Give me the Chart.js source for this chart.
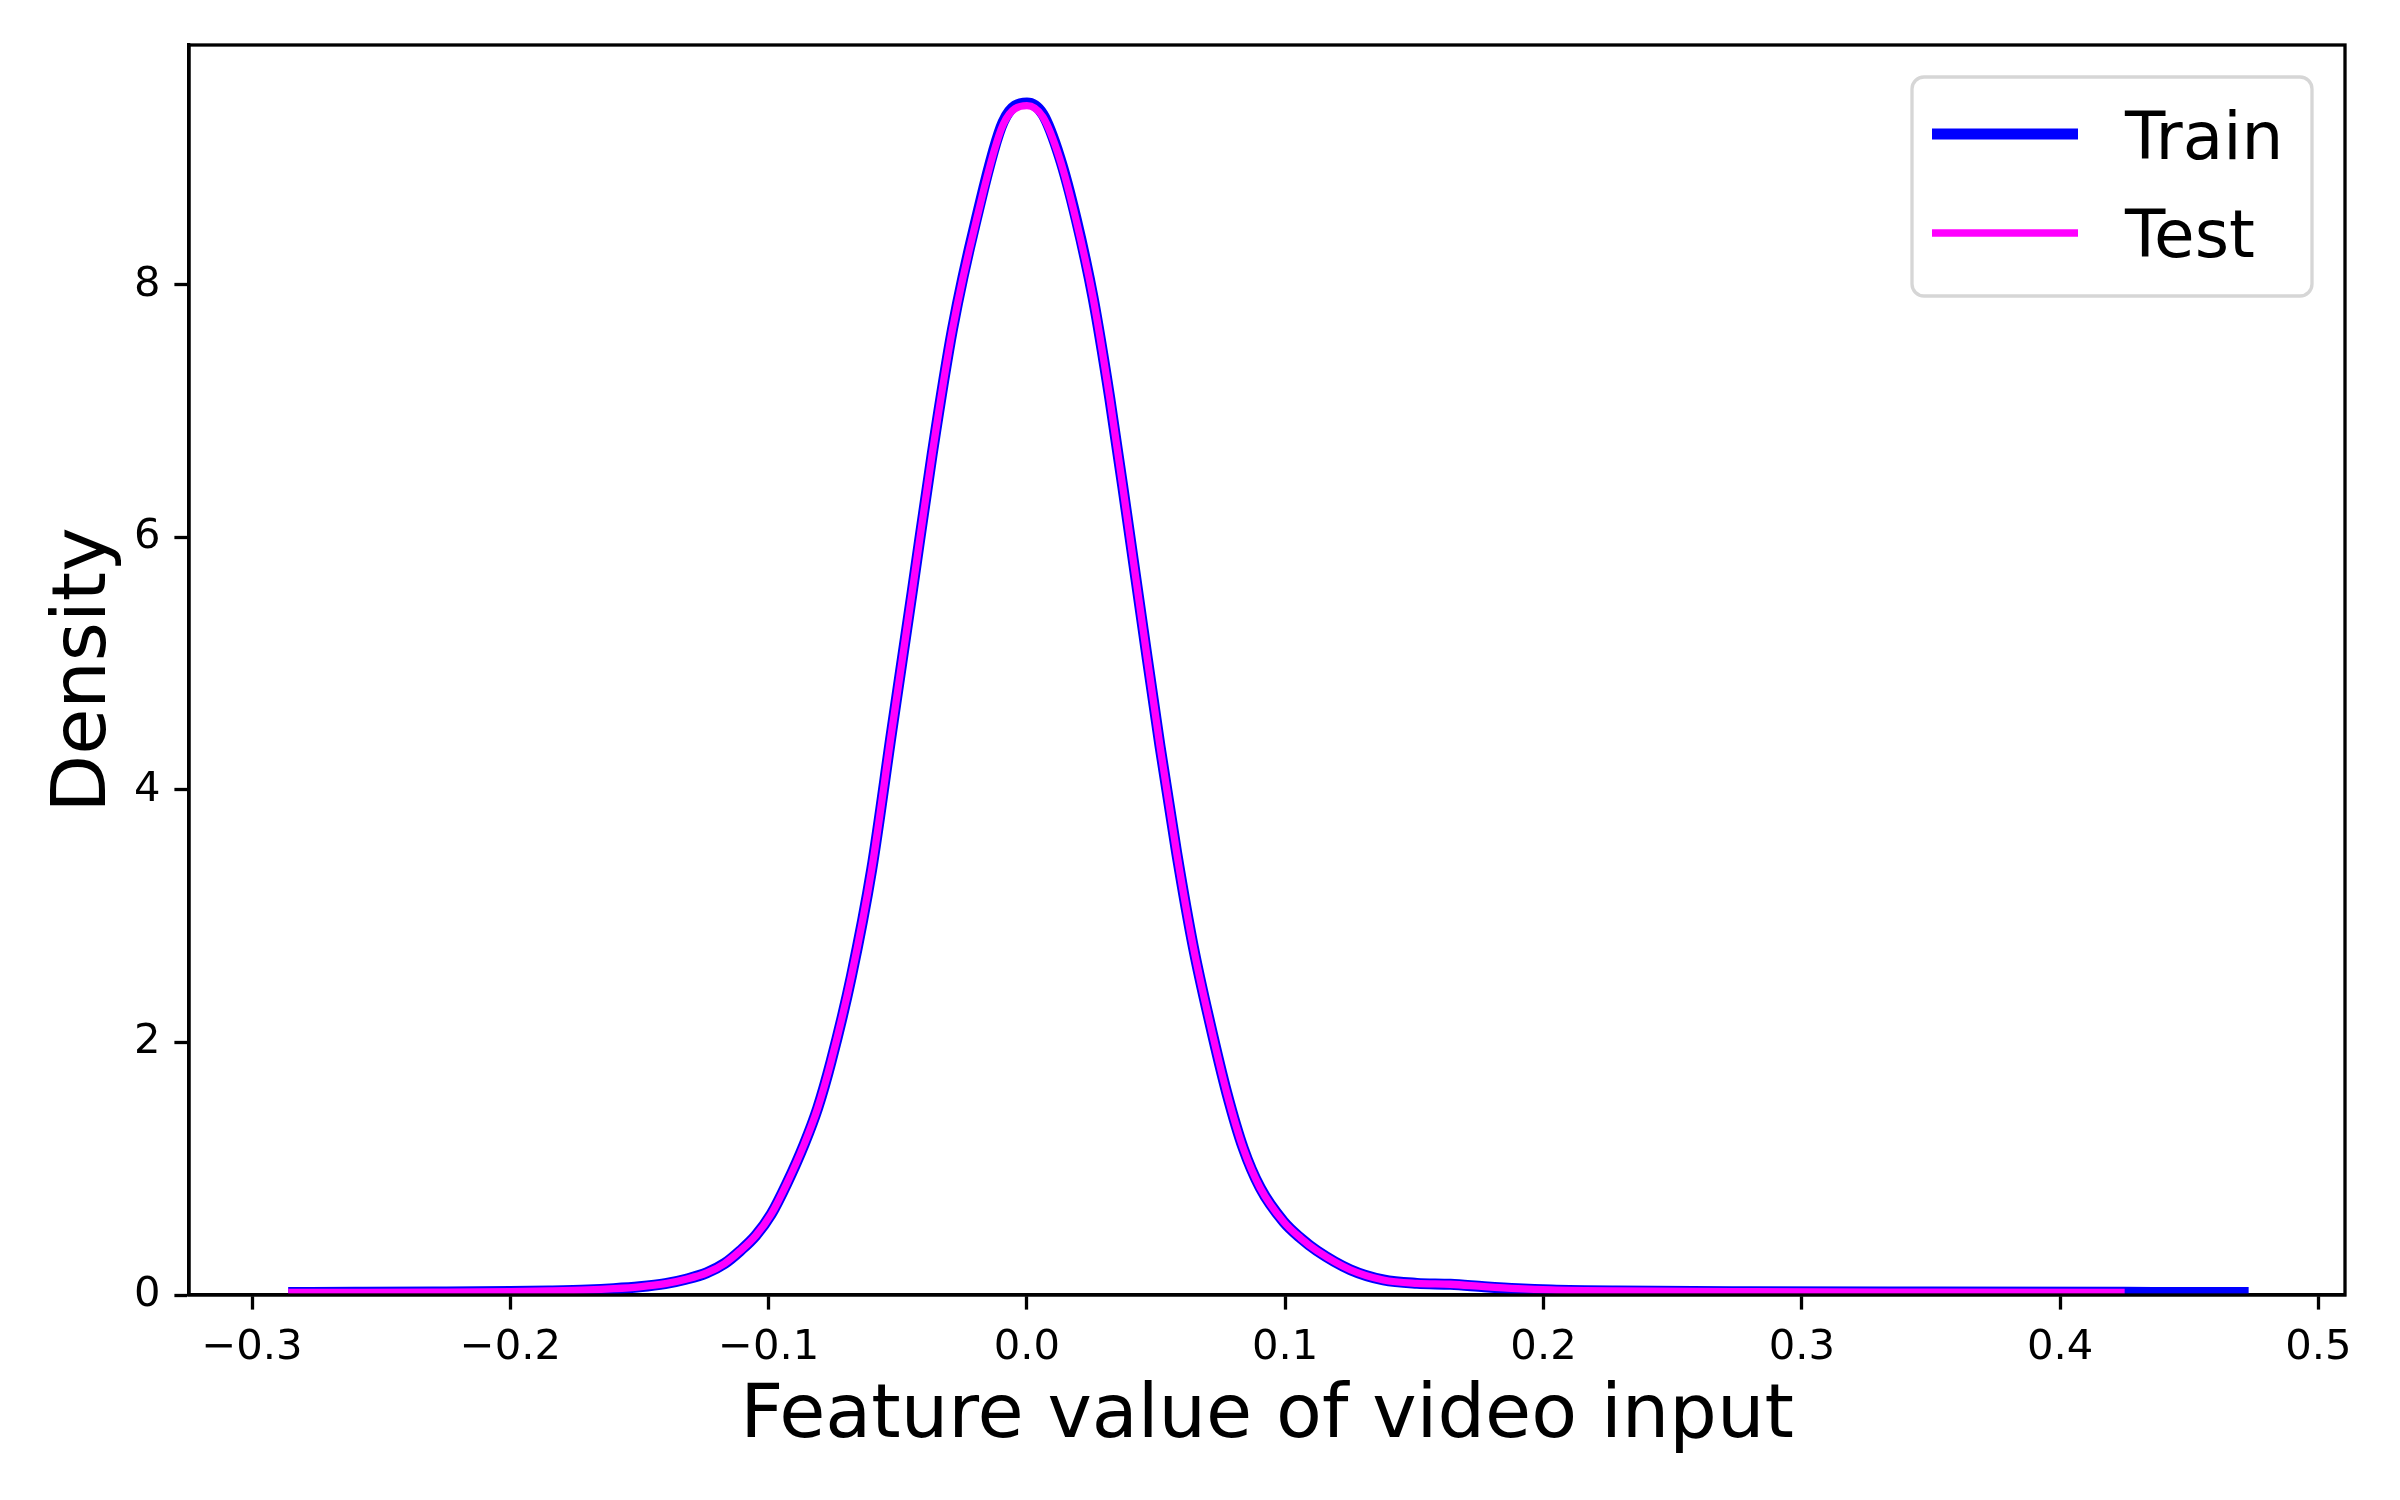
<!DOCTYPE html>
<html>
<head>
<meta charset="utf-8">
<title>Density of video input features</title>
<script src="https://cdn.jsdelivr.net/npm/chart.js@4.4.1/dist/chart.umd.min.js"></script>
<style>
  html, body { margin: 0; padding: 0; background: #fff; }
  #wrap { width: 2400px; height: 1500px; }
</style>
</head>
<body>
<div id="wrap"><canvas id="kde" width="2400" height="1500"></canvas></div>
<script>
// valeurs
const trainX = [-0.286, -0.26, -0.23, -0.20, -0.185, -0.17, -0.16, -0.15, -0.14, -0.132, -0.124, -0.117, -0.111, -0.105, -0.099, -0.093, -0.0863, -0.081, -0.0758, -0.068, -0.0601, -0.0523, -0.0444, -0.0366, -0.0288, -0.0196, -0.0092, 0.0, 0.0062, 0.0127, 0.0191, 0.0256, 0.0321, 0.0386, 0.045, 0.0515, 0.058, 0.0644, 0.0709, 0.0774, 0.0838, 0.0903, 0.0994, 0.106, 0.1123, 0.1252, 0.138, 0.151, 0.164, 0.177, 0.19, 0.203, 0.228, 0.28, 0.35, 0.425, 0.45, 0.473];
const trainDensity = [0.020, 0.021, 0.023, 0.027, 0.032, 0.040, 0.050, 0.065, 0.090, 0.125, 0.175, 0.25, 0.35, 0.47, 0.64, 0.88, 1.19, 1.48, 1.85, 2.52, 3.37, 4.47, 5.57, 6.67, 7.65, 8.52, 9.29, 9.44, 9.35, 9.01, 8.52, 7.90, 7.10, 6.19, 5.27, 4.35, 3.50, 2.76, 2.15, 1.60, 1.16, 0.85, 0.58, 0.45, 0.35, 0.20, 0.119, 0.092, 0.085, 0.066, 0.050, 0.040, 0.032, 0.026, 0.023, 0.021, 0.020, 0.020];

const testX = [-0.286, -0.26, -0.23, -0.20, -0.185, -0.17, -0.16, -0.15, -0.14, -0.132, -0.124, -0.117, -0.111, -0.105, -0.099, -0.093, -0.0863, -0.081, -0.0758, -0.068, -0.0601, -0.0523, -0.0444, -0.0366, -0.0288, -0.0196, -0.0092, 0.0, 0.0062, 0.0127, 0.0191, 0.0256, 0.0321, 0.0386, 0.045, 0.0515, 0.058, 0.0644, 0.0709, 0.0774, 0.0838, 0.0903, 0.0994, 0.106, 0.1123, 0.1252, 0.138, 0.151, 0.164, 0.177, 0.19, 0.203, 0.228, 0.28, 0.35, 0.425];
const testDensity = [0.020, 0.021, 0.023, 0.027, 0.032, 0.040, 0.050, 0.065, 0.090, 0.125, 0.175, 0.25, 0.35, 0.47, 0.64, 0.88, 1.19, 1.48, 1.85, 2.52, 3.37, 4.47, 5.57, 6.67, 7.65, 8.51, 9.27, 9.42, 9.33, 9.00, 8.51, 7.90, 7.10, 6.19, 5.27, 4.35, 3.50, 2.76, 2.15, 1.60, 1.16, 0.85, 0.58, 0.45, 0.35, 0.20, 0.119, 0.092, 0.085, 0.066, 0.050, 0.040, 0.032, 0.026, 0.023, 0.021];

const xTicks = [-0.3, -0.2, -0.1, 0.0, 0.1, 0.2, 0.3, 0.4, 0.5];
const yTicks = [0, 2, 4, 6, 8];
const seriesNames = ['Train', 'Test'];

const FONT = 'DejaVu Sans';

function toPoints(xs, ys) {
  return xs.map((x, i) => ({ x: x, y: ys[i] }));
}

// cadre complet (haut + droite) comme matplotlib
const framePlugin = {
  id: 'frame',
  afterDraw(chart) {
    const { ctx, chartArea: a } = chart;
    ctx.save();
    ctx.strokeStyle = '#000';
    ctx.lineWidth = 3.3;
    ctx.strokeRect(a.left, a.top, a.right - a.left, a.bottom - a.top);
    ctx.restore();
  }
};

// légende encadrée en haut à droite
const legendBoxPlugin = {
  id: 'legendBox',
  afterDraw(chart) {
    const ctx = chart.ctx;
    const box = { x: 1912, y: 77, w: 400, h: 219, r: 12 };
    ctx.save();
    ctx.beginPath();
    ctx.roundRect(box.x, box.y, box.w, box.h, box.r);
    ctx.fillStyle = 'rgba(255,255,255,0.8)';
    ctx.fill();
    ctx.strokeStyle = '#d6d6d6';
    ctx.lineWidth = 3.3;
    ctx.stroke();

    const rows = [
      { ds: chart.data.datasets[0], y: 134, textY: 159 },
      { ds: chart.data.datasets[1], y: 233, textY: 257 }
    ];
    rows.forEach(row => {
      ctx.beginPath();
      ctx.moveTo(1932, row.y);
      ctx.lineTo(2078, row.y);
      ctx.strokeStyle = row.ds.borderColor;
      ctx.lineWidth = row.ds.borderWidth;
      ctx.lineCap = 'butt';
      ctx.stroke();
      ctx.fillStyle = '#000';
      ctx.font = '66px "' + FONT + '"';
      ctx.textAlign = 'left';
      ctx.textBaseline = 'alphabetic';
      ctx.fillText(row.ds.label, 2125, row.textY);
    });
    ctx.restore();
  }
};

new Chart(document.getElementById('kde'), {
  type: 'line',
  data: {
    datasets: [
      {
        label: seriesNames[0],
        data: toPoints(trainX, trainDensity),
        borderColor: '#0000ff',
        borderWidth: 11,
        order: 1
      },
      {
        label: seriesNames[1],
        data: toPoints(testX, testDensity),
        borderColor: '#ff00ff',
        borderWidth: 7.3,
        order: 0
      }
    ]
  },
  options: {
    responsive: false,
    animation: false,
    devicePixelRatio: 1,
    layout: { padding: { top: 45, right: 55, left: 0, bottom: 0 } },
    elements: {
      point: { radius: 0, hoverRadius: 0 },
      line: { cubicInterpolationMode: 'monotone', fill: false, borderJoinStyle: 'round' }
    },
    plugins: {
      legend: { display: false },
      tooltip: { enabled: false }
    },
    scales: {
      x: {
        type: 'linear',
        min: -0.3244,
        max: 0.5103,
        afterBuildTicks: (scale) => { scale.ticks = xTicks.map(v => ({ value: v })); },
        afterFit: (scale) => { scale.height = 205; },
        ticks: {
          color: '#000',
          padding: 14,
          maxRotation: 0,
          font: { family: FONT, size: 41.7 },
          callback: (v) => Number(v).toFixed(1).replace('-', '\u2212')
        },
        grid: { display: true, drawOnChartArea: false, drawTicks: true, tickLength: 14.6, tickWidth: 3.3, tickColor: '#000' },
        border: { display: true, color: '#000', width: 3.3 },
        title: {
          display: true,
          text: 'Feature value of video input',
          color: '#000',
          font: { family: FONT, size: 75 },
          padding: { top: 0, bottom: 37 }
        }
      },
      y: {
        type: 'linear',
        min: 0,
        max: 9.9,
        afterBuildTicks: (scale) => { scale.ticks = yTicks.map(v => ({ value: v })); },
        afterFit: (scale) => { scale.width = 189; },
        ticks: {
          color: '#000',
          padding: 14,
          font: { family: FONT, size: 41.7 },
          callback: (v) => String(v)
        },
        grid: { display: true, drawOnChartArea: false, drawTicks: true, tickLength: 14.6, tickWidth: 3.3, tickColor: '#000' },
        border: { display: true, color: '#000', width: 3.3 },
        title: {
          display: true,
          text: 'Density',
          color: '#000',
          font: { family: FONT, size: 75 },
          padding: { top: 41, bottom: 0 }
        }
      }
    }
  },
  plugins: [framePlugin, legendBoxPlugin]
});
</script>
</body>
</html>
